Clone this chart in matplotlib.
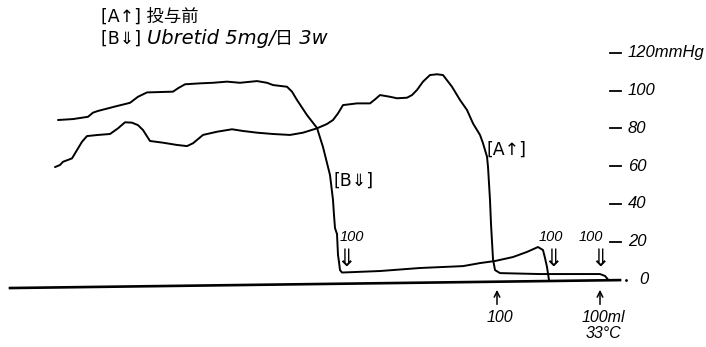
import matplotlib
matplotlib.use("Agg")
import matplotlib.pyplot as plt

plt.rcParams["font.family"] = ["DejaVu Sans", "Noto Sans CJK JP"]
ITAL = ["Liberation Sans", "DejaVu Sans"]

# chart traced off the recorder strip: t in chart units (left -> right), pressure in mmHg
# [A] before dosing
a_t = [55, 60, 63, 72, 77, 82, 87, 98, 110, 118, 125, 132, 138, 143, 150, 163,
       177, 187, 193, 203, 217, 232, 243, 257, 273, 290, 303, 317, 327, 333,
       338, 343, 357, 370, 375, 380, 390, 397, 407, 412, 417, 423, 430, 437,
       443, 452, 460, 467, 473, 480, 483, 487, 488, 490, 491, 493, 495, 500,
       540, 600, 605, 608]
a_mmhg = [59.5, 60.6, 62.3, 64.1, 68.5, 72.9, 75.9, 76.5, 77.0, 80.0, 83.2, 83.0,
          81.7, 79.1, 73.3, 72.4, 71.2, 70.6, 72.1, 76.5, 78.2, 79.5, 78.6, 77.7,
          77.0, 76.5, 77.7, 80.0, 82.3, 84.4, 87.9, 92.3, 93.2, 93.2, 95.3, 97.6,
          96.7, 95.9, 96.2, 97.6, 100.3, 104.7, 108.2, 108.6, 108.2, 102.0, 95.0,
          89.7, 82.6, 76.5, 72.1, 65.0, 59.7, 42.1, 29.4, 10.8, 5.0, 3.4, 2.9,
          2.9, 1.9, 0.0]

# [B] Ubretid 5mg/day, 3 weeks
b_t = [58, 73, 88, 93, 98, 117, 130, 138, 147, 160, 173, 178, 185, 200, 213,
       227, 240, 257, 267, 273, 287, 292, 297, 307, 317, 323, 330, 333, 334,
       335, 337, 338, 339, 340, 342, 380, 420, 463, 480, 495, 513, 527, 538,
       543, 545, 547, 549]
b_mmhg = [84.4, 84.9, 86.1, 88.3, 89.2, 91.8, 93.5, 96.7, 99.0, 99.2, 99.4, 101.2,
          103.3, 103.8, 104.1, 104.7, 104.1, 105.0, 104.1, 102.9, 102.0, 99.4,
          95.0, 87.0, 80.2, 70.1, 55.3, 42.1, 34.1, 27.2, 24.1, 13.0, 9.3, 5.0,
          3.7, 4.5, 6.1, 7.1, 8.7, 9.8, 11.9, 14.6, 17.2, 15.6, 11.4, 6.6, -0.3]

base_t = [10, 620]
base_mmhg = [-4.5, -0.3]

scale_ticks = [120, 100, 80, 60, 40, 20]
scale_labels = ["120mmHg", "100", "80", "60", "40", "20"]

dose_t = [346, 553, 600]          # 100 (double arrow) marks on the traces
infuse_t = [497, 600]             # filling marks below the baseline
infuse_labels = ["100", "100ml\n33°C"]

fig = plt.figure(figsize=(7.06, 3.47), dpi=100)
ax = fig.add_axes([0, 0, 1, 1])
ax.set_xlim(0, 706)
ax.set_ylim(-35.7, 147.9)
ax.axis("off")

line_kw = dict(color="k", lw=1.4, solid_joinstyle="round", solid_capstyle="round")
ax.plot(a_t, a_mmhg, **line_kw)
ax.plot(b_t, b_mmhg, **line_kw)
ax.plot(base_t, base_mmhg, color="k", lw=1.9)

# pressure scale on the right
for v, lab in zip(scale_ticks, scale_labels):
    ax.plot([610, 621], [v, v], color="k", lw=1.3)
    ax.text(628, v, lab, family=ITAL, style="italic", fontsize=12, va="center")
ax.plot([626], [0], "k.", ms=2)
ax.text(639, 0, "0", family=ITAL, style="italic", fontsize=12, va="center")

# dose marks
for t in dose_t:
    ax.text(t, 11.0, "⇓", fontsize=17, ha="center", va="center")
ax.text(352, 22.5, "100", family=ITAL, style="italic", fontsize=10.5, ha="center", va="center")
ax.text(551, 22.5, "100", family=ITAL, style="italic", fontsize=10.5, ha="center", va="center")
ax.text(591, 22.5, "100", family=ITAL, style="italic", fontsize=10.5, ha="center", va="center")

for t, lab in zip(infuse_t, infuse_labels):
    ax.annotate("", xy=(t, -4.0), xytext=(t, -14.6),
                arrowprops=dict(arrowstyle="->", lw=1.1, color="k"))
    ax.text(t + 3, -16.0, lab, family=ITAL, style="italic", fontsize=11.5,
            ha="center", va="top", linespacing=1.1)

# curve tags
ax.text(354, 52.1, "[B⇓]", fontsize=12.5, ha="center", va="center")
ax.text(507, 68.5, "[A↑]", fontsize=12.5, ha="center", va="center")

# header
ax.text(101, 138.9, "[A↑] 投与前", fontsize=12.5, va="center")
t1 = ax.text(101, 127.2, "[B⇓] ", fontsize=12.5, va="center")
t2 = ax.annotate("Ubretid 5mg/", xy=(1, 0), xycoords=t1, va="bottom",
                 family=["DejaVu Sans"], style="italic", fontsize=14)
t3 = ax.annotate("日", xy=(1, 0), xycoords=t2, va="bottom",
                 family=["Noto Sans CJK JP"], fontsize=13)
ax.annotate(" 3w", xy=(1, 0), xycoords=t3, va="bottom",
            family=["DejaVu Sans"], style="italic", fontsize=14)

fig.savefig("out.png", dpi=100)
